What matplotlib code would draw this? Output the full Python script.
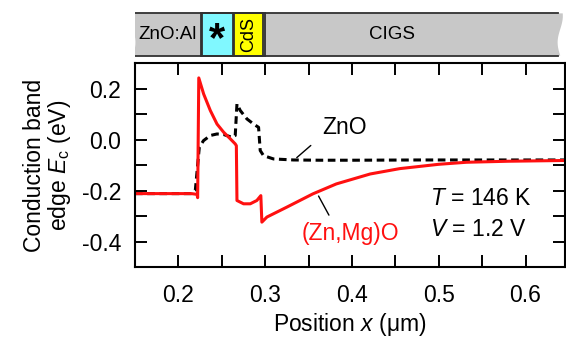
import matplotlib
matplotlib.use("Agg")
import matplotlib.pyplot as plt
import numpy as np
from matplotlib.patches import Rectangle, Polygon

plt.rcParams['font.family'] = ['Liberation Sans', 'DejaVu Sans']
plt.rcParams['mathtext.fontset'] = 'custom'
plt.rcParams['mathtext.rm'] = 'Liberation Sans'
plt.rcParams['mathtext.it'] = 'Liberation Sans:italic'

# conduction band edge, (Zn,Mg)O buffer
zmo_x = [0.15, 0.215, 0.2215, 0.2222, 0.2235, 0.2291, 0.2368, 0.2445, 0.2521, 0.2598, 0.2655,
         0.2668, 0.2675, 0.2751, 0.2828, 0.2904, 0.2950, 0.2962, 0.302, 0.325, 0.355,
         0.382, 0.421, 0.455, 0.5, 0.532, 0.58, 0.646]
zmo_y = [-0.212, -0.212, -0.215, -0.228, 0.242, 0.179, 0.114, 0.061, 0.029, 0.003, -0.017,
         -0.024, -0.239, -0.252, -0.252, -0.239, -0.220, -0.324, -0.304, -0.265, -0.213,
         -0.174, -0.135, -0.114, -0.097, -0.089, -0.085, -0.082]

# conduction band edge, ZnO buffer
zno_x = [0.15, 0.215, 0.2195, 0.2241, 0.229, 0.2368, 0.2445, 0.252, 0.2617, 0.2655, 0.2675,
         0.2713, 0.279, 0.2866, 0.2924, 0.2943, 0.2981, 0.3096, 0.3326, 0.3632, 0.4015,
         0.478, 0.55, 0.646]
zno_y = [-0.212, -0.212, -0.200, -0.030, -0.004, 0.016, 0.022, 0.020, 0.009, 0.016, 0.140,
         0.114, 0.081, 0.061, 0.048, -0.043, -0.063, -0.076, -0.080, -0.081, -0.081,
         -0.080, -0.080, -0.080]

# layer stack (position boundaries in um)
layer_names = ['ZnO:Al', '*', 'CdS', 'CIGS']
layer_left = [0.15, 0.2275, 0.2645, 0.2995]
layer_right = [0.2255, 0.2625, 0.2975, 0.646]
layer_colors = ['#c8c8c8', '#80f8ff', '#ffff00', '#c8c8c8']

fs = 16.5

fig = plt.figure(figsize=(5.66, 3.37), dpi=100)
ax = fig.add_axes([0.2385, 0.2077, 0.7605, 0.605])
bar = fig.add_axes([0.2385, 0.8309, 0.7605, 0.1335])

ax.plot(zno_x, zno_y, color='black', lw=2.2, dashes=(2.5, 1.5))
ax.plot(zmo_x, zmo_y, color='#ff1010', lw=2.2)

ax.set_xlim(0.15, 0.646)
ax.set_ylim(-0.5, 0.3)
ax.set_xticks(np.arange(0.2, 0.65, 0.1))
ax.set_xticks(np.arange(0.15, 0.65, 0.05), minor=True)
ax.set_yticks([-0.4, -0.2, 0.0, 0.2])
ax.set_yticks(np.arange(-0.4, 0.25, 0.1), minor=True)
ax.set_xticklabels(['0.2', '0.3', '0.4', '0.5', '0.6'])
ax.set_yticklabels(['-0.4', '-0.2', '0.0', '0.2'])
ax.tick_params(which='both', direction='in', top=True, right=True,
               length=8.5, width=1.4, labelsize=fs)
ax.tick_params(axis='x', which='both', pad=12)
ax.tick_params(axis='y', which='both', pad=10)
for s in ax.spines.values():
    s.set_linewidth(1.5)

ax.set_xlabel('Position $x$ (μm)', fontsize=fs, labelpad=3)
ax.set_ylabel('Conduction band\nedge $E_\\mathrm{c}$ (eV)', fontsize=fs,
              linespacing=1.0, labelpad=6)

ax.text(0.392, 0.047, 'ZnO', fontsize=fs, ha='center', va='center')
ax.annotate('', xy=(0.334, -0.078), xytext=(0.355, -0.016),
            arrowprops=dict(arrowstyle='-', color='black', lw=1.0))
ax.text(0.398, -0.369, '(Zn,Mg)O', fontsize=fs, ha='center', va='center', color='#ff1010')
ax.annotate('', xy=(0.36, -0.212), xytext=(0.375, -0.306),
            arrowprops=dict(arrowstyle='-', color='black', lw=1.0))
ax.text(0.49, -0.231, '$T$ = 146 K', fontsize=fs, ha='left', va='center')
ax.text(0.49, -0.353, '$V$ = 1.2 V', fontsize=fs, ha='left', va='center')

# layer bar
bar.set_xlim(0.15, 0.646)
bar.set_ylim(0, 1)
bar.axis('off')
yy = np.linspace(0.03, 0.97, 30)
wave = 0.0025 * np.sin((yy - 0.03) / 0.94 * np.pi * 1.6)
gray_x = np.concatenate([layer_left[0] - 0.002 + wave, layer_right[-1] - 0.006 - wave[::-1] * 1.2])
gray_y = np.concatenate([yy, yy[::-1]])
bar.add_patch(Polygon(np.column_stack([gray_x, gray_y]), closed=True,
                      facecolor='#c8c8c8', edgecolor='none'))
for i in (1, 2):
    bar.add_patch(Rectangle((layer_left[i], 0.03), layer_right[i] - layer_left[i], 0.94,
                            facecolor=layer_colors[i], edgecolor='#303030', lw=1.3))
bar.plot([layer_right[0], layer_right[0]], [0.03, 0.97], color='#303030', lw=1.3)
bar.plot([layer_left[3], layer_left[3]], [0.03, 0.97], color='#303030', lw=1.3)
bar.plot([layer_left[0], layer_right[-1] - 0.008], [0.97, 0.97], color='#303030', lw=1.3)
bar.plot([layer_left[0], layer_right[-1] - 0.008], [0.03, 0.03], color='#303030', lw=1.3)

bar.text((layer_left[0] + layer_right[0]) / 2, 0.5, layer_names[0], fontsize=13.5,
         ha='center', va='center')
bar.text((layer_left[1] + layer_right[1]) / 2, 0.38, layer_names[1], fontsize=30,
         fontweight='bold', ha='center', va='center')
bar.text((layer_left[2] + layer_right[2]) / 2, 0.5, layer_names[2], fontsize=13,
         rotation=90, ha='center', va='center')
bar.text(0.446, 0.5, layer_names[3], fontsize=13.5, ha='center', va='center')

fig.savefig('out.png', dpi=100)
